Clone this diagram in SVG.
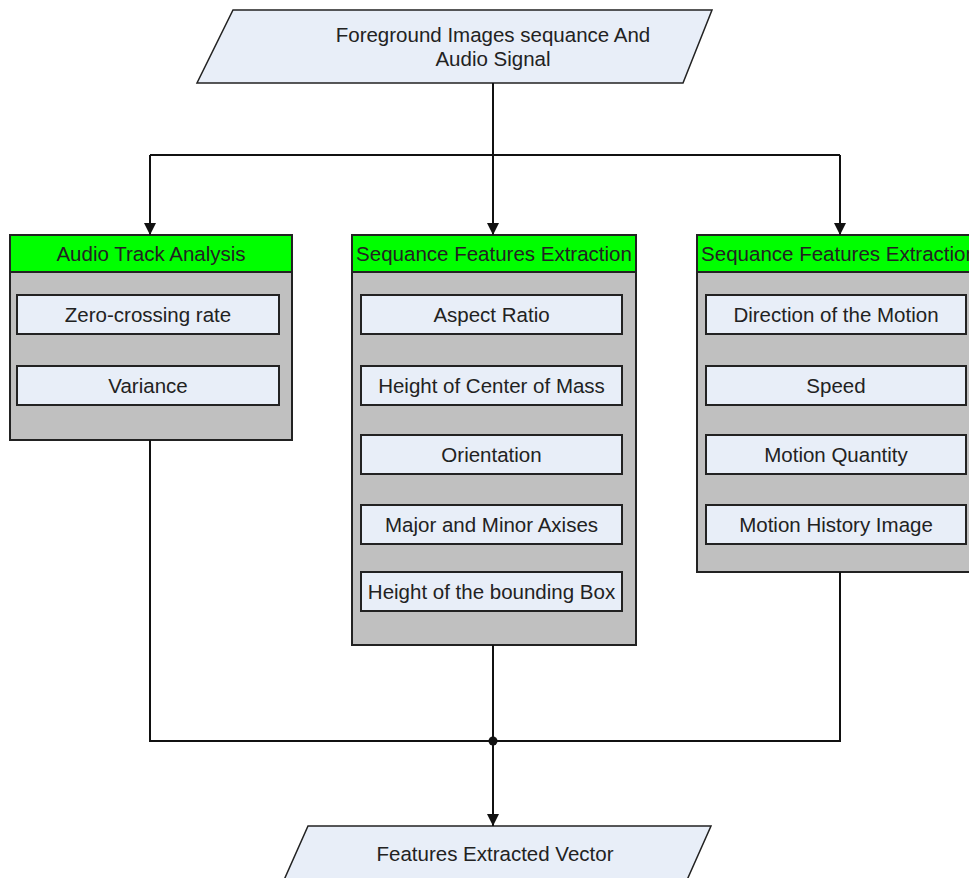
<svg xmlns="http://www.w3.org/2000/svg" width="969" height="878" viewBox="0 0 969 878">
<style>
.io{fill:#e8eef8;stroke:#222;stroke-width:1.5}
.cont{fill:#c0c0c0;stroke:#222;stroke-width:2}
.hdr{fill:#00ff00;stroke:#222;stroke-width:2}
.item{fill:#e8eef8;stroke:#222;stroke-width:2}
text{font-family:"Liberation Sans",Arial,sans-serif;font-size:20.5px;fill:#222;text-anchor:middle;dominant-baseline:central}
.wire{fill:none;stroke:#111;stroke-width:2}
</style>
<defs>
<marker id="arr" viewBox="0 0 10 10" refX="10" refY="5" markerWidth="6.5" markerHeight="6" markerUnits="strokeWidth" orient="auto">
<path d="M0,0 L10,5 L0,10 Z" fill="#111"/>
</marker>
</defs>
<g id="input">
<polygon class="io" points="233,10 712,10 683,83 197,83"/>
<text x="493" y="34">Foreground Images sequance And</text>
<text x="493" y="58">Audio Signal</text>
</g>
<g id="audio">
<rect class="cont" x="10" y="235" width="282" height="205"/>
<rect class="hdr" x="10" y="235" width="282" height="37"/>
<text x="151" y="253">Audio Track Analysis</text>
<rect class="item" x="17" y="295" width="262" height="39"/>
<text x="148" y="314.5">Zero-crossing rate</text>
<rect class="item" x="17" y="366" width="262" height="39"/>
<text x="148" y="385.5">Variance</text>
</g>
<g id="seq1">
<rect class="cont" x="352" y="235" width="284" height="410"/>
<rect class="hdr" x="352" y="235" width="284" height="37"/>
<text x="494" y="253">Sequance Features Extraction</text>
<rect class="item" x="361" y="295" width="261" height="39"/>
<text x="491.5" y="314.5">Aspect Ratio</text>
<rect class="item" x="361" y="366" width="261" height="39"/>
<text x="491.5" y="385.5">Height of Center of Mass</text>
<rect class="item" x="361" y="435" width="261" height="39"/>
<text x="491.5" y="454.5">Orientation</text>
<rect class="item" x="361" y="505" width="261" height="39"/>
<text x="491.5" y="524.5">Major and Minor Axises</text>
<rect class="item" x="361" y="572" width="261" height="39"/>
<text x="491.5" y="591.5">Height of the bounding Box</text>
</g>
<g id="seq2">
<rect class="cont" x="697" y="235" width="284" height="337"/>
<rect class="hdr" x="697" y="235" width="284" height="37"/>
<text x="839" y="253">Sequance Features Extraction</text>
<rect class="item" x="706" y="295" width="260" height="39"/>
<text x="836" y="314.5">Direction of the Motion</text>
<rect class="item" x="706" y="366" width="260" height="39"/>
<text x="836" y="385.5">Speed</text>
<rect class="item" x="706" y="435" width="260" height="39"/>
<text x="836" y="454.5">Motion Quantity</text>
<rect class="item" x="706" y="505" width="260" height="39"/>
<text x="836" y="524.5">Motion History Image</text>
</g>
<g id="output">
<polygon class="io" points="308,826 711,826 687,880 284,880"/>
<text x="495" y="853">Features Extracted Vector</text>
</g>
<g id="connectors">
<path class="wire" d="M493,83 V155"/>
<path class="wire" d="M150,155 H840"/>
<path class="wire" d="M150,155 V235" marker-end="url(#arr)"/>
<path class="wire" d="M493,155 V235" marker-end="url(#arr)"/>
<path class="wire" d="M840,155 V235" marker-end="url(#arr)"/>
<path class="wire" d="M150,440 V741 H840 V572"/>
<path class="wire" d="M493,645 V741"/>
<path class="wire" d="M493,741 V826" marker-end="url(#arr)"/>
<circle cx="493" cy="741" r="4.5" fill="#111"/>
</g>
</svg>
